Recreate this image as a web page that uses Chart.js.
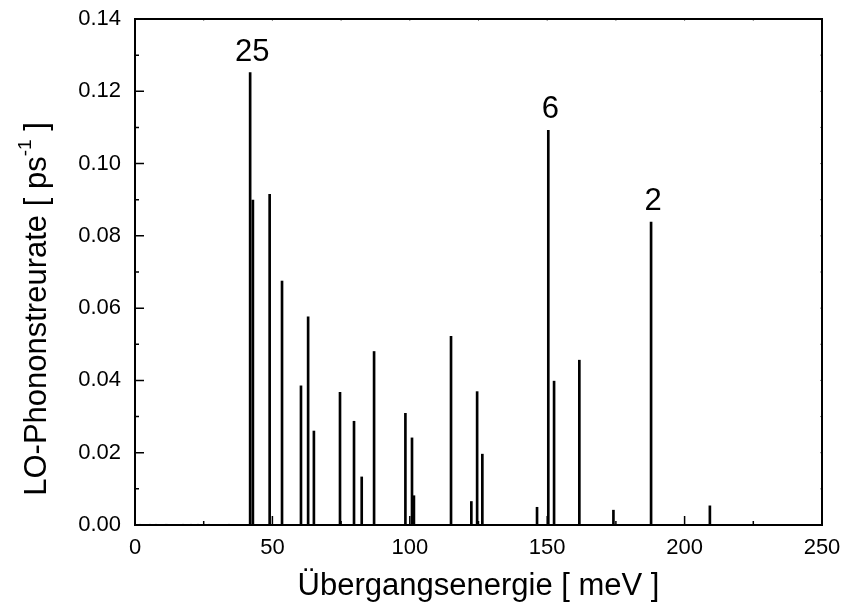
<!DOCTYPE html>
<html>
<head>
<meta charset="utf-8">
<script src="https://cdn.jsdelivr.net/npm/chart.js@4/dist/chart.umd.min.js"></script>
<style>
  html, body { margin: 0; padding: 0; background: #fff; }
  canvas { display: block; }
</style>
</head>
<body>
<canvas id="rateChart" width="842" height="613"></canvas>
<script>
// Übergangsenergien (meV) und LO-Phononstreuraten (ps^-1)
const energies = [1.8, 5.5, 7.6, 11.4, 17.5, 20.4, 22.9, 26.9, 34.2,
    41.9, 42.9, 49.0, 53.5, 60.4, 63.0, 65.1, 74.6, 79.7, 82.5, 87.0,
    98.4, 100.8, 101.5, 115.0, 122.4, 124.5, 126.4, 146.3, 150.4, 152.5,
    161.7, 174.1, 187.8, 209.2];
const rates = [0.0002, 0.0002, 0.0002, 0.0002, 0.0002, 0.0002, 0.0002, 0.0002, 0.0002,
    0.1252, 0.0899, 0.0915, 0.0675, 0.0385, 0.0576, 0.0260, 0.0367, 0.0287, 0.0133, 0.0480,
    0.0309, 0.0241, 0.0081, 0.0522, 0.0065, 0.0369, 0.0196, 0.0049, 0.1092, 0.0398,
    0.0456, 0.0041, 0.0838, 0.0053];

// Beschriftete Linien
const peakLabels = ["25", "6", "2"];
const peakEnergies = [41.9, 150.4, 187.8];
const peakRates = [0.1252, 0.1092, 0.0838];

const xTicks = [0, 50, 100, 150, 200, 250];
const yTicks = [0, 0.02, 0.04, 0.06, 0.08, 0.10, 0.12, 0.14];

const FONT = "'Liberation Sans', Arial, sans-serif";

// Rahmen, nach innen zeigende Ticks, Beschriftungen und y-Achsentitel
const decorations = {
    id: "decorations",
    afterDatasetsDraw(chart) {
        const ctx = chart.ctx;
        const area = chart.chartArea;
        const xs = chart.scales.x;
        const ys = chart.scales.y;
        ctx.save();

        // Ticks unten / links (nach innen)
        ctx.strokeStyle = "#000";
        ctx.lineWidth = 1.5;
        ctx.beginPath();
        for (let v = 0; v <= 250; v += 25) {
            const px = xs.getPixelForValue(v);
            const len = v % 50 === 0 ? 9 : 4;
            ctx.moveTo(px, area.bottom);
            ctx.lineTo(px, area.bottom - len);
        }
        for (let i = 0; i <= 14; i++) {
            const py = ys.getPixelForValue(i / 100);
            const len = i % 2 === 0 ? 9 : 4;
            ctx.moveTo(area.left, py);
            ctx.lineTo(area.left + len, py);
        }
        ctx.stroke();

        // schwache Ticks oben / rechts
        ctx.strokeStyle = "#888";
        ctx.lineWidth = 1;
        ctx.beginPath();
        for (let v = 25; v < 250; v += 25) {
            const px = xs.getPixelForValue(v);
            ctx.moveTo(px, area.top);
            ctx.lineTo(px, area.top + 2);
        }
        for (let i = 1; i < 14; i++) {
            const py = ys.getPixelForValue(i / 100);
            ctx.moveTo(area.right, py);
            ctx.lineTo(area.right - 2, py);
        }
        ctx.stroke();

        // Rahmen
        ctx.strokeStyle = "#000";
        ctx.lineWidth = 2;
        ctx.strokeRect(area.left, area.top, area.right - area.left, area.bottom - area.top);

        // Zahlen über den Linien
        ctx.fillStyle = "#000";
        ctx.font = "31px " + FONT;
        ctx.textAlign = "center";
        ctx.textBaseline = "bottom";
        peakLabels.forEach((t, i) => {
            const px = xs.getPixelForValue(peakEnergies[i]);
            const py = ys.getPixelForValue(peakRates[i]);
            ctx.fillText(t, px + 2, py - 5);
        });

        // y-Achsentitel mit Hochzahl
        ctx.translate(37, 309);
        ctx.rotate(-Math.PI / 2);
        ctx.textBaseline = "middle";
        ctx.textAlign = "left";
        const big = "31px " + FONT;
        const small = "19px " + FONT;
        const p1 = "LO-Phononstreurate [ ps";
        const p2 = "-1";
        const p3 = " ]";
        ctx.font = big;
        const w1 = ctx.measureText(p1).width;
        const w3 = ctx.measureText(p3).width;
        ctx.font = small;
        const w2 = ctx.measureText(p2).width;
        let x0 = -(w1 + w2 + w3) / 2;
        ctx.font = big;
        ctx.fillText(p1, x0, 0);
        ctx.font = small;
        ctx.fillText(p2, x0 + w1, -11);
        ctx.font = big;
        ctx.fillText(p3, x0 + w1 + w2, 0);

        ctx.restore();
    }
};

new Chart(document.getElementById("rateChart"), {
    type: "bar",
    data: {
        datasets: [{
            data: energies.map((e, i) => ({ x: e, y: rates[i] })),
            backgroundColor: "#000",
            borderWidth: 0,
            barThickness: 2
        }]
    },
    options: {
        responsive: false,
        animation: false,
        events: [],
        layout: { padding: { top: 19, right: 20, left: 0, bottom: 0 } },
        plugins: {
            legend: { display: false },
            tooltip: { enabled: false }
        },
        scales: {
            x: {
                type: "linear",
                offset: false,
                min: 0,
                max: 250,
                afterBuildTicks: s => { s.ticks = xTicks.map(v => ({ value: v })); },
                afterFit: s => { s.height = 88; s.paddingLeft = 0; s.paddingRight = 0; },
                grid: { display: false, drawTicks: false },
                border: { display: false },
                ticks: {
                    padding: 10,
                    color: "#000",
                    font: { family: FONT, size: 22 }
                },
                title: {
                    display: true,
                    text: "Übergangsenergie [ meV ]",
                    color: "#000",
                    font: { family: FONT, size: 31 },
                    padding: { top: 0, bottom: 8 }
                }
            },
            y: {
                min: 0,
                max: 0.14,
                afterBuildTicks: s => { s.ticks = yTicks.map(v => ({ value: v })); },
                afterFit: s => { s.width = 135; s.paddingTop = 0; s.paddingBottom = 0; },
                grid: { display: false, drawTicks: false },
                border: { display: false },
                ticks: {
                    padding: 14,
                    color: "#000",
                    font: { family: FONT, size: 22 },
                    callback: v => v.toFixed(2)
                }
            }
        }
    },
    plugins: [decorations]
});
</script>
</body>
</html>
